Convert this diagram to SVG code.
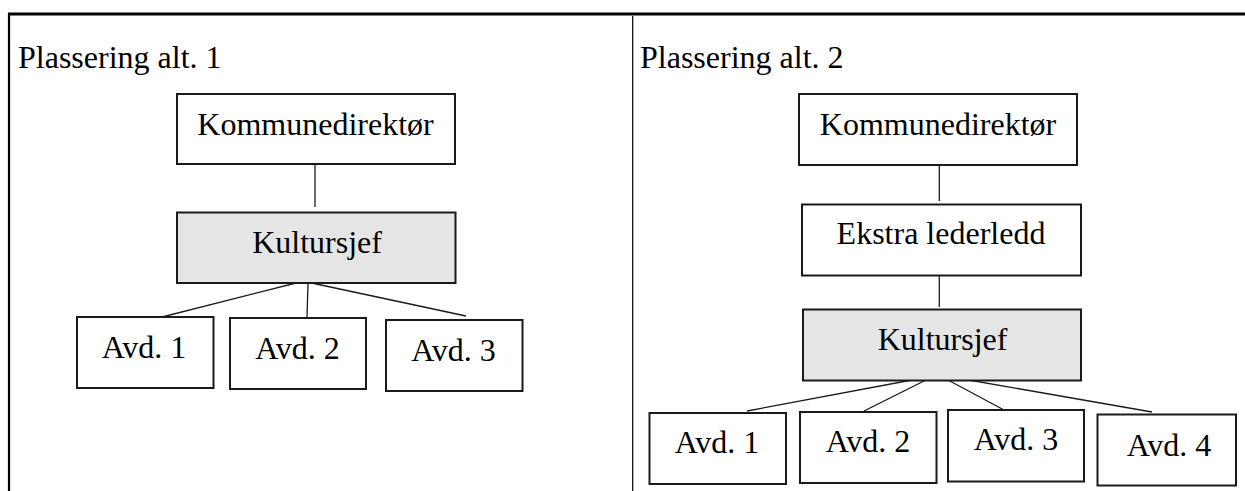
<svg xmlns="http://www.w3.org/2000/svg" width="1245" height="491" viewBox="0 0 1245 491">
  <style>
    .box { fill: #ffffff; stroke: #1a1a1a; stroke-width: 2; }
    .box.hl { fill: #e5e5e5; }
    .lbl { font-family: "Liberation Serif", "Times New Roman", serif; font-size: 32px; fill: #000; text-anchor: middle; }
    .head { font-family: "Liberation Serif", "Times New Roman", serif; font-size: 32px; fill: #000; }
    .link { stroke: #1a1a1a; stroke-width: 1.3; fill: none; }
    .frame { stroke: #000; fill: none; }
  </style>
  <rect width="1245" height="491" fill="#ffffff"/>

  <!-- page frame and column divider -->
  <g id="frame">
    <line class="frame" x1="8" y1="14" x2="1245" y2="14" stroke-width="3"/>
    <line class="frame" x1="9" y1="13" x2="9" y2="491" stroke-width="2.2"/>
    <line class="frame" x1="632.7" y1="16" x2="632.7" y2="491" stroke-width="1.2"/>
  </g>

  <text class="head" x="18" y="68">Plassering alt. 1</text>
  <text class="head" x="640" y="68">Plassering alt. 2</text>

  <!-- connectors -->
  <g id="connectors">
    <line class="link" x1="315" y1="164" x2="315" y2="207"/>
    <line class="link" x1="300" y1="282" x2="162" y2="317"/>
    <line class="link" x1="308" y1="283" x2="307" y2="317"/>
    <line class="link" x1="307" y1="282" x2="466" y2="316"/>

    <line class="link" x1="939.3" y1="165" x2="939.3" y2="201"/>
    <line class="link" x1="939.3" y1="276" x2="939.3" y2="307"/>
    <line class="link" x1="912" y1="380" x2="747" y2="411"/>
    <line class="link" x1="926" y1="380" x2="864" y2="411"/>
    <line class="link" x1="948" y1="380" x2="1004" y2="410"/>
    <line class="link" x1="963" y1="379" x2="1152" y2="412"/>
  </g>

  <!-- alternative 1 -->
  <g id="a1-kommunedirektor">
    <rect class="box" x="177" y="94" width="278" height="70"/>
    <text class="lbl" x="315.5" y="135">Kommunedirektør</text>
  </g>
  <g id="a1-kultursjef">
    <rect class="box hl" x="177" y="212.5" width="278.5" height="70.5"/>
    <text class="lbl" x="317" y="253">Kultursjef</text>
  </g>
  <g id="a1-avd1">
    <rect class="box" x="77" y="317" width="136.5" height="71"/>
    <text class="lbl" x="144" y="358">Avd. 1</text>
  </g>
  <g id="a1-avd2">
    <rect class="box" x="230" y="318" width="136" height="71"/>
    <text class="lbl" x="297.5" y="359">Avd. 2</text>
  </g>
  <g id="a1-avd3">
    <rect class="box" x="386" y="320" width="136.5" height="71"/>
    <text class="lbl" x="453.5" y="361">Avd. 3</text>
  </g>

  <!-- alternative 2 -->
  <g id="a2-kommunedirektor">
    <rect class="box" x="799" y="94" width="278" height="71"/>
    <text class="lbl" x="938" y="135">Kommunedirektør</text>
  </g>
  <g id="a2-ekstra-lederledd">
    <rect class="box" x="802" y="204.5" width="279" height="71"/>
    <text class="lbl" x="941" y="244">Ekstra lederledd</text>
  </g>
  <g id="a2-kultursjef">
    <rect class="box hl" x="803" y="309.5" width="278" height="71"/>
    <text class="lbl" x="942.5" y="350">Kultursjef</text>
  </g>
  <g id="a2-avd1">
    <rect class="box" x="649.5" y="413" width="136.5" height="71"/>
    <text class="lbl" x="717" y="453">Avd. 1</text>
  </g>
  <g id="a2-avd2">
    <rect class="box" x="800" y="412" width="136.5" height="71"/>
    <text class="lbl" x="868" y="452">Avd. 2</text>
  </g>
  <g id="a2-avd3">
    <rect class="box" x="948" y="410" width="136" height="71.5"/>
    <text class="lbl" x="1016" y="450">Avd. 3</text>
  </g>
  <g id="a2-avd4">
    <rect class="box" x="1097.5" y="414.5" width="138.5" height="71"/>
    <text class="lbl" x="1169" y="456">Avd. 4</text>
  </g>
</svg>
